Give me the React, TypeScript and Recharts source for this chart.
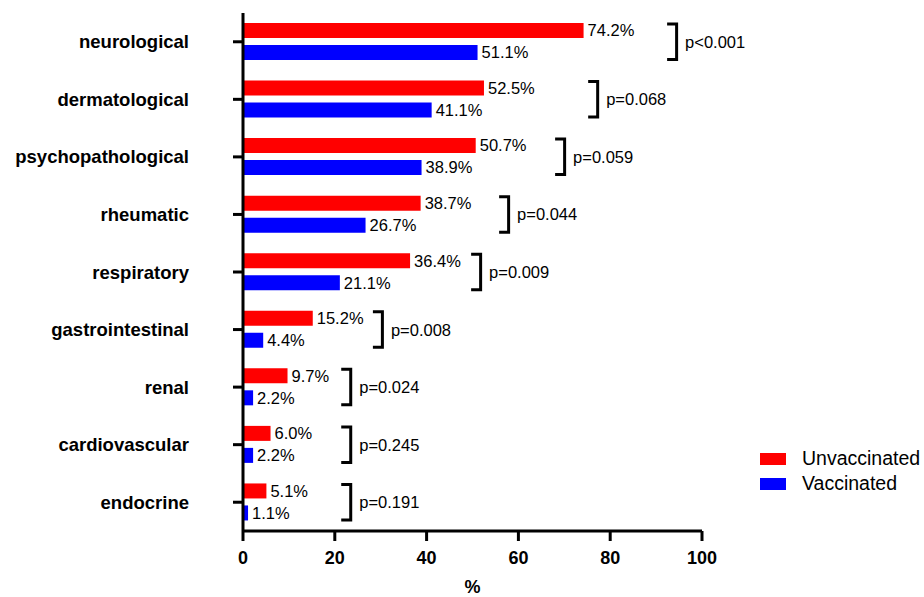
import React from 'react';
import { BarChart, Bar, XAxis, YAxis, LabelList, Legend } from 'recharts';

// ── Data ───────────────────────────────────────────────────────
const CATEGORIES = [
  'neurological', 'dermatological', 'psychopathological', 'rheumatic', 'respiratory',
  'gastrointestinal', 'renal', 'cardiovascular', 'endocrine',
];
const UNVACCINATED = [74.2, 52.5, 50.7, 38.7, 36.4, 15.2, 9.7, 6.0, 5.1];
const VACCINATED = [51.1, 41.1, 38.9, 26.7, 21.1, 4.4, 2.2, 2.2, 1.1];
const P_VALUES = [
  'p<0.001', 'p=0.068', 'p=0.059', 'p=0.044', 'p=0.009',
  'p=0.008', 'p=0.024', 'p=0.245', 'p=0.191',
];
// where each significance bracket sits, in % on the x axis
const BRACKET_AT = [92.4, 75.2, 68.0, 55.8, 49.7, 28.3, 21.4, 21.4, 21.4];
const X_TICKS = [0, 20, 40, 60, 80, 100];

const rows = CATEGORIES.map((name, i) => ({
  name,
  unvax: UNVACCINATED[i],
  vax: VACCINATED[i],
}));

const FONT = '"Liberation Sans", Arial, Helvetica, sans-serif';
const BAR_SIZE = 15;
const BAR_GAP = 7;

const pct = (v: any) => `${Number(v).toFixed(1)}%`;

// bracket spanning both bars of a category, plus its p-value
function PBracket(props: any) {
  const vb = props.viewBox ?? props;
  const x = Number(vb.x ?? props.x);
  const y = Number(vb.y ?? props.y);
  const w = Number(vb.width ?? props.width);
  const h = Number(vb.height ?? props.height);
  const value = Number(props.value);
  let i = props.index;
  if (i == null) i = UNVACCINATED.indexOf(value);
  if (!value || !w || i < 0) return null;

  const bx = x + (BRACKET_AT[i] * w) / value;
  const top = y + 1;
  const bottom = y + 2 * h + BAR_GAP - 0.5;
  return (
    <g>
      <path
        d={`M${bx},${top} L${bx + 9.5},${top} L${bx + 9.5},${bottom} L${bx},${bottom}`}
        fill="none"
        stroke="#000"
        strokeWidth={3}
      />
      <text
        x={bx + 18}
        y={(top + bottom) / 2}
        dominantBaseline="central"
        fontSize={16.5}
        fontFamily={FONT}
        fill="#000"
      >
        {P_VALUES[i]}
      </text>
    </g>
  );
}

function LegendBox({ payload }: any) {
  return (
    <div style={{ fontFamily: FONT, fontSize: 19.5, color: '#000' }}>
      {(payload ?? []).map((entry: any) => (
        <div key={entry.value} style={{ display: 'flex', alignItems: 'center', height: 25 }}>
          <span style={{ width: 26, height: 12, background: entry.color, marginRight: 16 }} />
          <span>{entry.value}</span>
        </div>
      ))}
    </div>
  );
}

export default function App() {
  return (
    <div style={{ position: 'absolute', left: 0, top: 0, width: 924, height: 597, background: '#fff', fontFamily: FONT }}>
      <BarChart
        width={924}
        height={597}
        data={rows}
        layout="vertical"
        margin={{ top: 13, right: 222, bottom: 0, left: 0 }}
        barGap={BAR_GAP}
      >
        <XAxis
          type="number"
          domain={[0, 100]}
          ticks={X_TICKS}
          height={66}
          tickSize={10}
          tickMargin={10}
          axisLine={{ stroke: '#000', strokeWidth: 3 }}
          tickLine={{ stroke: '#000', strokeWidth: 3 }}
          tick={{ fontSize: 18, fontWeight: 700, fill: '#000', fontFamily: FONT }}
          label={{
            value: '%', position: 'insideBottom', offset: 4,
            style: { fontSize: 18, fontWeight: 700, fill: '#000', fontFamily: FONT },
          }}
        />
        <YAxis
          type="category"
          dataKey="name"
          width={243}
          tickSize={10}
          tickMargin={44}
          axisLine={{ stroke: '#000', strokeWidth: 3 }}
          tickLine={{ stroke: '#000', strokeWidth: 3 }}
          tick={{ fontSize: 18.5, fontWeight: 700, fill: '#000', fontFamily: FONT }}
        />
        <Legend
          layout="horizontal"
          verticalAlign="middle"
          align="center"
          content={<LegendBox />}
          wrapperStyle={{ left: 760, top: 446, width: 170, height: 52 }}
        />
        <Bar dataKey="unvax" name="Unvaccinated" fill="#ff0000" barSize={BAR_SIZE} isAnimationActive={false}>
          <LabelList
            dataKey="unvax"
            position="right"
            offset={4}
            formatter={pct}
            style={{ fontSize: 16.5, fill: '#000', fontFamily: FONT }}
          />
          <LabelList dataKey="unvax" content={<PBracket />} />
        </Bar>
        <Bar dataKey="vax" name="Vaccinated" fill="#0000ff" barSize={BAR_SIZE} isAnimationActive={false}>
          <LabelList
            dataKey="vax"
            position="right"
            offset={4}
            formatter={pct}
            style={{ fontSize: 16.5, fill: '#000', fontFamily: FONT }}
          />
        </Bar>
      </BarChart>
    </div>
  );
}
